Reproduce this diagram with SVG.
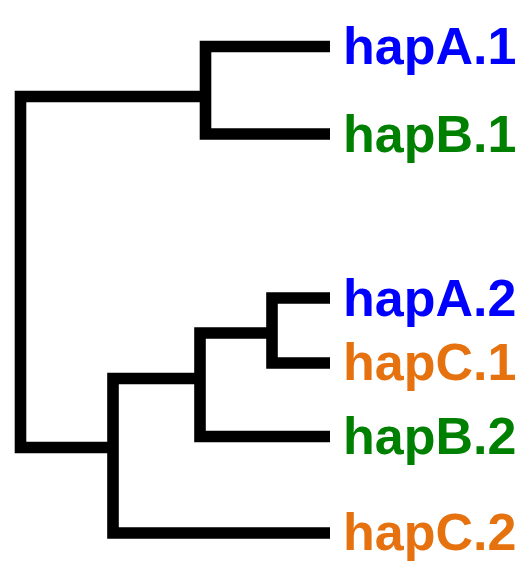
<svg xmlns="http://www.w3.org/2000/svg" width="529" height="562" viewBox="0 0 529 562">
<style>
.br{fill:none;stroke:#000;stroke-width:11.6;stroke-linecap:butt;stroke-linejoin:miter}
.lb{font-family:"Liberation Sans",Arial,sans-serif;font-weight:bold;font-size:52px}
.a{fill:#0000FF}.b{fill:#008000}.c{fill:#E5720F}
</style>
<rect width="529" height="562" fill="#fff"/>
<g id="connectors">
<path class="br" d="M330,46.5 H205.5 V134 H330"/>
<path class="br" d="M205.5,96.5 H20.5 V447.5 H113"/>
<path class="br" d="M330,533 H113 V378.5 H200"/>
<path class="br" d="M330,436.5 H200 V333 H272"/>
<path class="br" d="M330,298 H272 V363 H330"/>
</g>
<g id="hapA1"><text class="lb a" x="343" y="63.5">hapA.1</text></g>
<g id="hapB1"><text class="lb b" x="343" y="152">hapB.1</text></g>
<g id="hapA2"><text class="lb a" x="343" y="315.5">hapA.2</text></g>
<g id="hapC1"><text class="lb c" x="343" y="380">hapC.1</text></g>
<g id="hapB2"><text class="lb b" x="343" y="453.5">hapB.2</text></g>
<g id="hapC2"><text class="lb c" x="343" y="550">hapC.2</text></g>
</svg>
